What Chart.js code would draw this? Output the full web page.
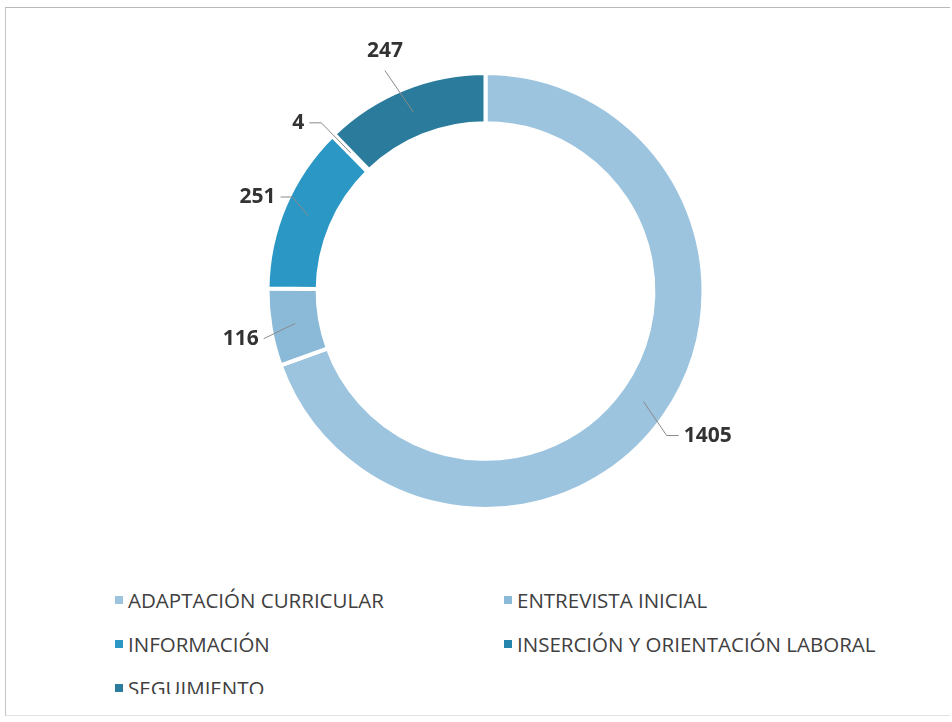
<!DOCTYPE html>
<html>
<head>
<meta charset="utf-8">
<script src="https://cdn.jsdelivr.net/npm/chart.js@4"></script>
<style>
  body { margin: 0; background: #fff; font-family: "Open Sans", sans-serif; }
  #frame {
    position: absolute; left: 5px; top: 7px; width: 944px; height: 707px;
    border-top: 1px solid #b8b8b8; border-left: 1px solid #c4c4c4;
    border-bottom: 1px solid #e2e2e2; overflow: hidden;
  }
  #chartBox { position: absolute; left: 0; top: 0; width: 944px; height: 560px; }
  #legend {
    position: absolute; left: 109px; top: 580px; width: 800px; height: 106px; overflow: hidden;
    display: grid; grid-template-columns: 389px 400px; grid-auto-rows: 24px; row-gap: 20px;
  }
  .item { display: flex; align-items: center; font-size: 20.5px; color: #404040; height: 24px; white-space: nowrap; }
  .box { width: 8px; height: 8px; margin-right: 5px; flex: none; }
</style>
</head>
<body>
<div id="frame">
  <div id="chartBox"><canvas id="myChartDonut"></canvas></div>
  <div id="legend"></div>
</div>
<script>
// data
let categories = [
  'ADAPTACIÓN CURRICULAR',
  'ENTREVISTA INICIAL',
  'INFORMACIÓN',
  'INSERCIÓN Y ORIENTACIÓN LABORAL',
  'SEGUIMIENTO',
];
let values = [1405, 116, 251, 4, 247];
let colors = ['#9cc4de', '#8abad8', '#2b97c5', '#2585ad', '#2b7c9c'];

// leader line tweaks per slice (extra radius, elbow shift, horizontal tail)
let leaderStyle = [
  { r: 13, dx: -8, dy: 12, h: 12 },
  { r: 7, dx: 0, dy: 10, h: 0 },
  { r: -3, dx: 5, dy: -10, h: 12 },
  { r: 17, dx: 0, dy: 0, h: 12 },
  { r: 24, dx: -10, dy: 4, h: 0, top: true },
];

// labels with leader lines
let leaderLabels = {
  id: 'leaderLabels',
  afterDatasetsDraw(chart) {
    let ctx = chart.ctx;
    let meta = chart.getDatasetMeta(0);
    ctx.save();
    meta.data.forEach((arc, i) => {
      let s = leaderStyle[i];
      let p = arc.getProps(['x', 'y', 'startAngle', 'endAngle', 'innerRadius', 'outerRadius']);
      let a = (p.startAngle + p.endAngle) / 2;
      let rm = (p.innerRadius + p.outerRadius) / 2;
      let re = p.outerRadius + s.r;
      let x1 = p.x + Math.cos(a) * rm, y1 = p.y + Math.sin(a) * rm;
      let x2 = p.x + Math.cos(a) * re + s.dx, y2 = p.y + Math.sin(a) * re + s.dy;
      let dir = Math.cos(a) >= 0 ? 1 : -1;
      let x3 = x2 + dir * s.h;
      ctx.strokeStyle = '#8a8a8a';
      ctx.lineWidth = 1;
      ctx.beginPath();
      ctx.moveTo(x1, y1);
      ctx.lineTo(x2, y2);
      if (s.h) ctx.lineTo(x3, y2);
      ctx.stroke();
      ctx.fillStyle = '#333';
      ctx.font = 'bold 21px "Open Sans"';
      ctx.textBaseline = 'middle';
      let txt = String(values[i]);
      if (s.top) {
        ctx.textAlign = 'center';
        ctx.fillText(txt, x2, y2 - 20);
      } else {
        ctx.textAlign = dir > 0 ? 'left' : 'right';
        ctx.fillText(txt, x3 + dir * 5, y2);
      }
    });
    ctx.restore();
  },
};

// config block
let config = {
  type: 'doughnut',
  data: {
    labels: categories,
    datasets: [
      {
        data: values,
        backgroundColor: colors,
        borderColor: '#ffffff',
        borderWidth: 4,
        hoverOffset: 0,
      },
    ],
  },
  options: {
    responsive: true,
    maintainAspectRatio: false,
    animation: false,
    cutout: '77%',
    layout: { padding: { top: 63, bottom: 57, left: 15, right: 0 } },
    plugins: {
      legend: { display: false },
      tooltip: { enabled: false },
    },
  },
  plugins: [leaderLabels],
};

// render block
let myChart = new Chart(document.getElementById('myChartDonut'), config);

// html legend in two columns
let legendEl = document.getElementById('legend');
categories.forEach((name, i) => {
  let item = document.createElement('div');
  item.className = 'item';
  item.innerHTML = '<span class="box" style="background:' + colors[i] + '"></span>' + name;
  legendEl.appendChild(item);
});
</script>
</body>
</html>
